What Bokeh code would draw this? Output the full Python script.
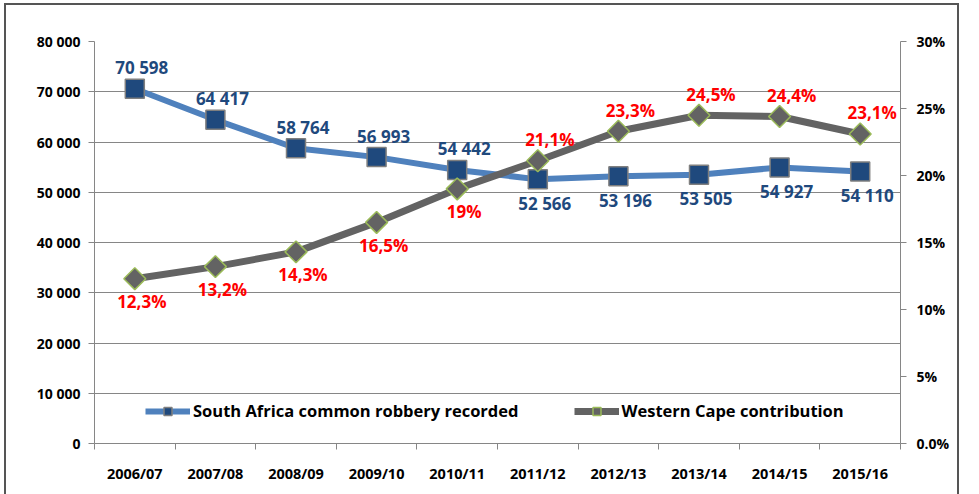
import math
from bokeh.plotting import figure
from bokeh.models import (Range1d, LinearAxis, FixedTicker, Legend, LegendItem,
                          ColumnDataSource)
from bokeh.core.properties import value
from bokeh.embed import file_html
from bokeh.resources import INLINE

categories = ["2006/07", "2007/08", "2008/09", "2009/10", "2010/11",
              "2011/12", "2012/13", "2013/14", "2014/15", "2015/16"]
sa_robbery = [70598, 64417, 58764, 56993, 54442, 52566, 53196, 53505, 54927, 54110]
wc_share = [12.3, 13.2, 14.3, 16.5, 19.0, 21.1, 23.3, 24.5, 24.4, 23.1]
sa_labels = ["70 598", "64 417", "58 764", "56 993", "54 442",
             "52 566", "53 196", "53 505", "54 927", "54 110"]
wc_labels = ["12,3%", "13,2%", "14,3%", "16,5%", "19%",
             "21,1%", "23,3%", "24,5%", "24,4%", "23,1%"]
left_ticks = [0, 10000, 20000, 30000, 40000, 50000, 60000, 70000, 80000]
left_tick_labels = ["0", "10 000", "20 000", "30 000", "40 000",
                    "50 000", "60 000", "70 000", "80 000"]
right_ticks = [0, 5, 10, 15, 20, 25, 30]
right_tick_labels = ["0.0%", "5%", "10%", "15%", "20%", "25%", "30%"]

FONT = "Open Sans"
GREY = "#868686"

xs = [i + 0.5 for i in range(len(categories))]

p = figure(width=955, height=491, output_backend="svg", toolbar_location=None,
           x_range=Range1d(0, len(categories)), y_range=Range1d(0, 80000),
           min_border_left=88, min_border_right=61, min_border_top=36,
           min_border_bottom=53)
p.styles = {"margin-left": "4px", "margin-top": "3px",
            "border-left": "2px solid #555555", "border-top": "2px solid #555555",
            "border-right": "2px solid #555555"}
p.outline_line_color = None
p.background_fill_color = "white"
p.border_fill_color = "white"

p.extra_y_ranges = {"pct": Range1d(0, 30)}

# grid
p.xgrid.visible = False
p.ygrid[0].ticker = FixedTicker(ticks=left_ticks)
p.ygrid[0].grid_line_color = GREY
p.ygrid[0].grid_line_width = 1

# x axis
xa = p.xaxis[0]
xa.ticker = FixedTicker(ticks=xs, minor_ticks=list(range(len(categories) + 1)))
xa.major_label_overrides = {x: c for x, c in zip(xs, categories)}
xa.major_tick_out = 0
xa.major_tick_in = 0
xa.minor_tick_out = 6
xa.minor_tick_in = 0
xa.minor_tick_line_color = GREY
xa.axis_line_color = GREY
xa.major_label_standoff = 14
xa.major_label_text_font = FONT
xa.major_label_text_font_style = "bold"
xa.major_label_text_font_size = "14.5px"
xa.major_label_text_color = "black"

# left axis
ya = p.yaxis[0]
ya.ticker = FixedTicker(ticks=left_ticks)
ya.major_label_overrides = {t: l for t, l in zip(left_ticks, left_tick_labels)}
ya.minor_tick_line_color = None
ya.major_tick_out = 6
ya.major_tick_in = 0
ya.major_tick_line_color = GREY
ya.axis_line_color = GREY
ya.major_label_standoff = 8
ya.major_label_text_font = FONT
ya.major_label_text_font_style = "bold"
ya.major_label_text_font_size = "14px"
ya.major_label_text_color = "black"

# right axis
ra = LinearAxis(y_range_name="pct", ticker=FixedTicker(ticks=right_ticks))
ra.major_label_overrides = {t: l for t, l in zip(right_ticks, right_tick_labels)}
ra.minor_tick_line_color = None
ra.major_tick_out = 6
ra.major_tick_in = 0
ra.major_tick_line_color = GREY
ra.axis_line_color = GREY
ra.major_label_standoff = 10
ra.major_label_text_font = FONT
ra.major_label_text_font_style = "bold"
ra.major_label_text_font_size = "14px"
ra.major_label_text_color = "black"
p.add_layout(ra, "right")

n = len(xs)
sa_src = ColumnDataSource(dict(
    x=xs, y=sa_robbery, label=sa_labels,
    dy=[-21 if i < 5 else 24 for i in range(n)],
    dx=[7] * n))
wc_src = ColumnDataSource(dict(
    x=xs, y=wc_share, label=wc_labels,
    dy=[23 if i < 5 else -21 for i in range(n)],
    dx=[7 if i < 5 else 12 for i in range(n)]))

sa_line = p.line("x", "y", source=sa_src, line_color="#4F81BD", line_width=6)
wc_line = p.line("x", "y", source=wc_src, line_color="#636363", line_width=7,
                 y_range_name="pct")
sa_mark = p.scatter("x", "y", source=sa_src, marker="square", size=19,
                    fill_color="#1F497D", line_color="#7F7F7F", line_width=1.5)
wc_mark = p.scatter("x", "y", source=wc_src, marker="square", size=15.5,
                    angle=math.pi / 4, fill_color="#636363", line_color="#9BBB59",
                    line_width=1.5, y_range_name="pct")

p.text("x", "y", text="label", source=sa_src, x_offset="dx", y_offset="dy",
       text_align="center", text_baseline="middle", text_color="#1F497D",
       text_font=value(FONT), text_font_style="bold", text_font_size="17px")
p.text("x", "y", text="label", source=wc_src, x_offset="dx", y_offset="dy",
       text_align="center", text_baseline="middle", text_color="#FF0000",
       text_font=value(FONT), text_font_style="bold", text_font_size="17px",
       y_range_name="pct")

legend = Legend(items=[
    LegendItem(label="South Africa common robbery recorded", renderers=[sa_line, sa_mark]),
    LegendItem(label="Western Cape contribution", renderers=[wc_line, wc_mark]),
], location=(51, 21), orientation="horizontal")
legend.background_fill_alpha = 0
legend.border_line_color = None
legend.glyph_width = 45
legend.glyph_height = 20
legend.padding = 0
legend.margin = 0
legend.spacing = 55
legend.label_standoff = 3
legend.label_text_font = FONT
legend.label_text_font_style = "bold"
legend.label_text_font_size = "16.5px"
legend.label_text_color = "black"
p.add_layout(legend, "center")

open("out.html", "w").write(file_html(p, INLINE))
